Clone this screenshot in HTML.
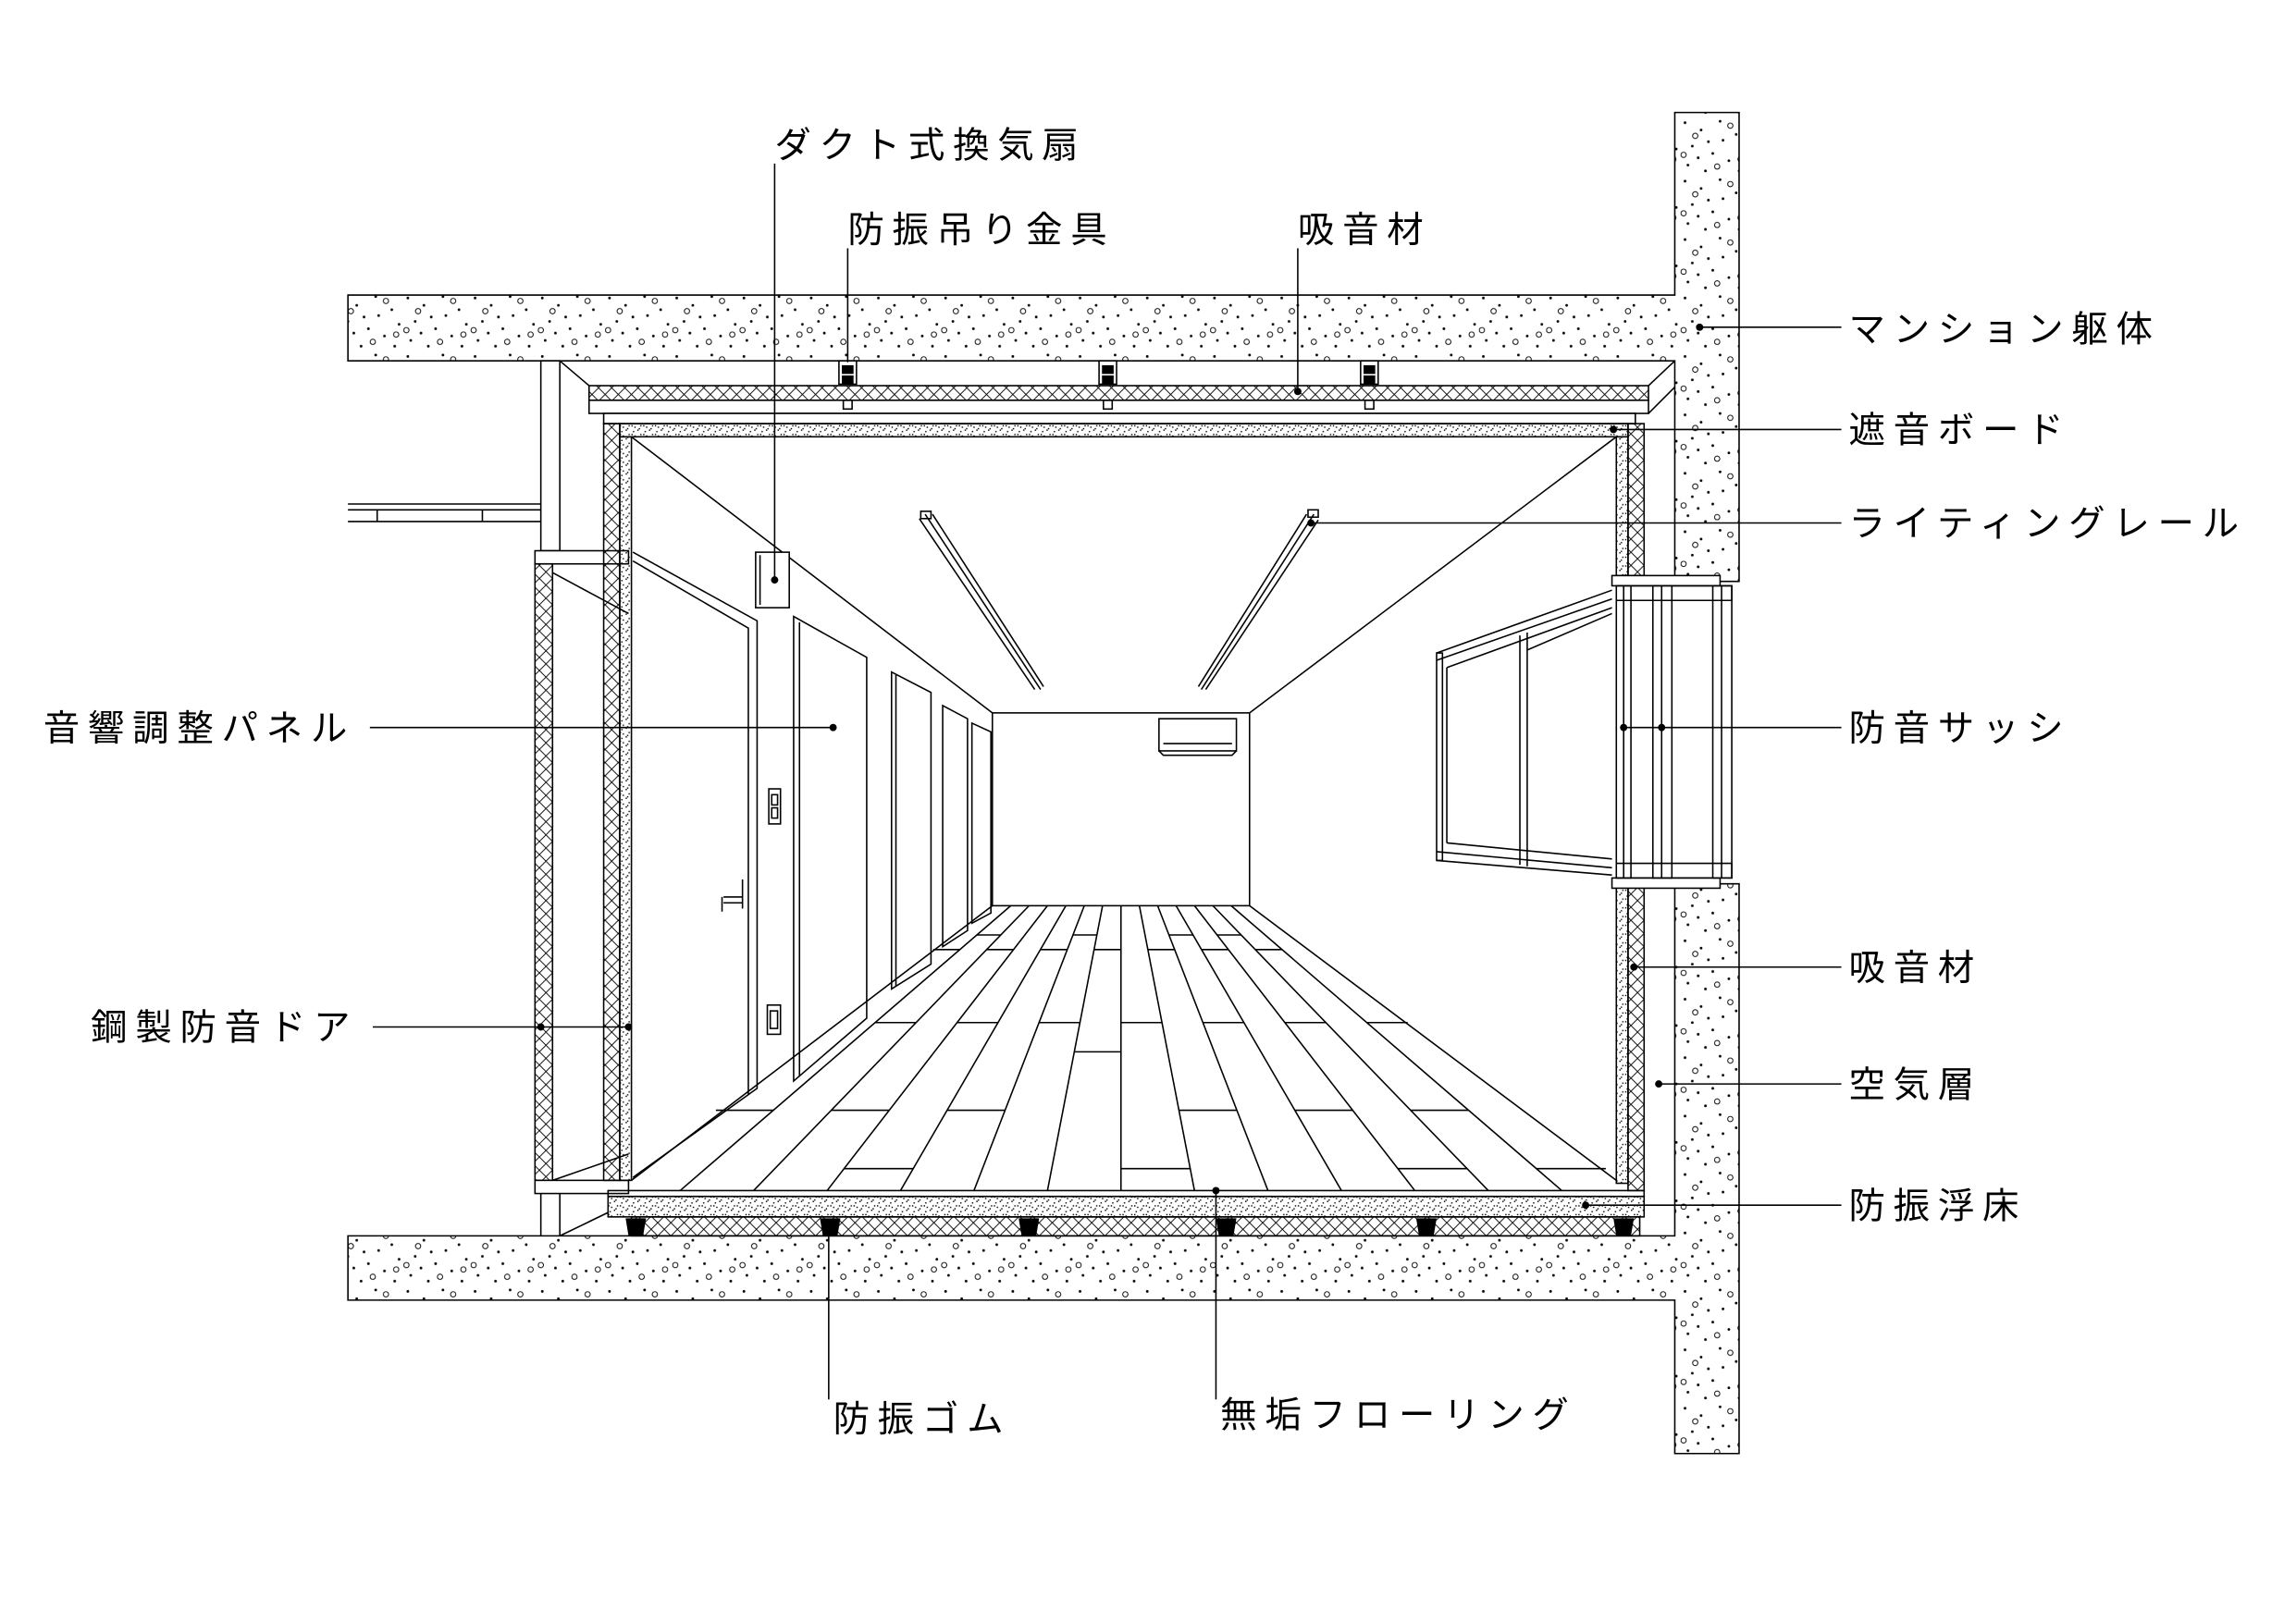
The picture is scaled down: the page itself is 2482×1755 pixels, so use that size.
<!DOCTYPE html>
<html><head><meta charset="utf-8"><style>
html,body{margin:0;padding:0;background:#fff;}
svg{display:block}
text{font-family:"Liberation Sans","Noto Sans CJK JP",sans-serif;font-size:25px;letter-spacing:5.5px;fill:#000}
</style></head><body>
<svg width="2482" height="1755" viewBox="0 0 1571 1111" xmlns="http://www.w3.org/2000/svg">
<defs>
<pattern id="conc" width="46" height="40" patternUnits="userSpaceOnUse">
<g fill="#000"><circle cx="3" cy="4" r="0.9"/><circle cx="14" cy="9" r="0.9"/><circle cx="27" cy="3" r="0.9"/><circle cx="38" cy="12" r="0.9"/><circle cx="8" cy="20" r="0.9"/><circle cx="22" cy="25" r="0.9"/><circle cx="33" cy="30" r="0.9"/><circle cx="43" cy="22" r="0.9"/><circle cx="5" cy="33" r="0.9"/><circle cx="17" cy="37" r="0.9"/><circle cx="40" cy="37" r="0.9"/><circle cx="29" cy="16" r="0.9"/><circle cx="19" cy="17" r="0.9"/><circle cx="12" cy="28" r="0.9"/></g>
<g fill="none" stroke="#000" stroke-width="0.6"><circle cx="10" cy="13" r="1.8"/><circle cx="34" cy="6" r="1.8"/><circle cx="25" cy="34" r="1.8"/><circle cx="2" cy="26" r="1.8"/><circle cx="41" cy="29" r="1.8"/></g>
</pattern>
<pattern id="hatch" width="9" height="9" patternUnits="userSpaceOnUse">
<path d="M0,0L9,9M9,0L0,9" stroke="#000" stroke-width="0.6"/>
</pattern>
<pattern id="speck" width="8" height="6" patternUnits="userSpaceOnUse">
<g fill="#000"><rect x="1" y="1" width="0.9" height="0.9"/><rect x="4" y="0" width="0.9" height="0.9"/><rect x="6" y="3" width="0.9" height="0.9"/><rect x="2" y="4" width="0.9" height="0.9"/><rect x="5" y="5" width="0.9" height="0.9"/><rect x="0" y="3" width="0.9" height="0.9"/></g>
</pattern>
</defs>
<g stroke="#000" stroke-width="1" fill="none">
<path d="M238,202H1146V77H1190V398H1146V247H238Z" fill="url(#conc)"/>
<path d="M238,846H1146V605H1190V995H1146V890H238Z" fill="url(#conc)"/>
<rect x="370" y="247" width="13" height="130" fill="#fff"/>
<path d="M383,247L403,264"/>
<path d="M238,345H370M238,357H370M238,349H370M258,349V357M330,349V357"/>
<rect x="366" y="377" width="64" height="9" fill="#fff"/>
<rect x="366" y="386" width="12" height="422" fill="url(#hatch)"/>
<rect x="366" y="808" width="64" height="9" fill="#fff"/>
<path d="M370,817V846M383,817V846M383,846L416,830M378,808L430,790M378,392L430,420"/>
<rect x="403" y="264" width="725" height="10" fill="url(#hatch)"/>
<rect x="403" y="274" width="725" height="9" fill="#fff"/>
<path d="M1128,264L1146,247M1128,283L1146,265"/>
<g fill="#fff"><rect x="574" y="247" width="12" height="16"/><rect x="752" y="247" width="12" height="16"/><rect x="931" y="247" width="12" height="16"/></g>
<g fill="#000" stroke="none"><rect x="576" y="250" width="8" height="6"/><rect x="576" y="257" width="8" height="6"/><rect x="754" y="250" width="8" height="6"/><rect x="754" y="257" width="8" height="6"/><rect x="933" y="250" width="8" height="6"/><rect x="933" y="257" width="8" height="6"/></g>
<rect x="577" y="274" width="6" height="6"/><rect x="755" y="274" width="6" height="6"/><rect x="934" y="274" width="6" height="6"/>
<rect x="413" y="283" width="706" height="7" fill="#fff"/>
<rect x="424" y="290" width="690" height="9" fill="url(#speck)"/>
<rect x="413" y="290" width="11" height="518" fill="url(#hatch)"/>
<rect x="424" y="299" width="8" height="509" fill="url(#speck)"/>
<rect x="1106" y="299" width="8" height="95" fill="url(#speck)"/>
<rect x="1114" y="290" width="11" height="104" fill="url(#hatch)"/>
<rect x="1106" y="606" width="8" height="204" fill="url(#speck)"/>
<rect x="1114" y="606" width="11" height="209" fill="url(#hatch)"/>
<rect x="1103" y="394" width="74" height="7" fill="#fff"/>
<rect x="1103" y="601" width="74" height="7" fill="#fff"/>
<g fill="#fff"><rect x="1106" y="401" width="10" height="200"/><rect x="1131" y="401" width="13" height="200"/><rect x="1172" y="401" width="13" height="200"/></g>
<path d="M1111,401V601M1137,401V601M1178,401V601"/>
<path d="M1106,401H1185V411H1106M1106,591H1185V601H1106"/>
<path d="M1103,404L983,447M1103,410L983,452M1103,416L990,457M1103,594L983,583M1103,599L983,589M1103,588L990,577"/>
<rect x="983" y="447" width="4" height="142"/>
<path d="M990,457V577M1040,435V592M1045,433V593M1045,445L1103,420"/>
<rect x="416" y="815" width="709" height="4"/>
<rect x="416" y="819" width="709" height="14" fill="url(#speck)"/>
<rect x="432" y="833" width="690" height="13" fill="url(#hatch)"/>
<g fill="#000" stroke="none"><path d="M428,834H442L440,846H430Z"/><path d="M561,834H575L573,846H563Z"/><path d="M697,834H711L709,846H699Z"/><path d="M832,834H846L844,846H834Z"/><path d="M969,834H983L981,846H971Z"/><path d="M1104,834H1118L1116,846H1106Z"/></g>
<rect x="679" y="488" width="176" height="132"/>
<path d="M432,299L679,488M1106,299L855,488M432,808L679,620M1106,808L855,620"/>
<path d="M691.6,620L465.3,815M704.1,620L515.6,815M716.7,620L565.9,815M729.3,620L616.1,815M741.9,620L666.4,815M754.4,620L716.7,815M767,620L767,815M779.6,620L817.3,815M792.1,620L867.6,815M804.7,620L917.9,815M817.3,620L968.1,815M829.9,620L1018.4,815M842.4,620L1068.7,815"/>
<path d="M638.5,650H656.9M489.8,760H529.5M598.9,700H626.7M668.2,640H684.6M675.2,650H693.6M568.9,760H608.6M654.8,700H682.9M577.4,800H624.9M712,650H730.4M648.2,760H687.9M711,700H738.9M734.1,640H750.5M748.6,650H767M735,720H767M767,700H795.1M767,800H814.5M785.4,650H803.6M806.7,760H846.1M823,700H851M799.9,640H816.4M822,650H840.4M885.8,760H925.4M879.2,700H907.3M832.9,640H849.4M956.6,800H1004.1M858.8,650H877.1M965.1,760H1004.5M935.1,700H963.2M1051.3,800H1098.8"/>
<path d="M433,378L518,425V745L433,806"/>
<path d="M433,384L512,430V749"/>
<rect x="526" y="540" width="8" height="24"/><rect x="528" y="544" width="4" height="7"/><rect x="528" y="553" width="4" height="7"/>
<rect x="525" y="688" width="9" height="20"/><rect x="527" y="692" width="5" height="12"/>
<path d="M508,602V622M495,614H508M495,618H508M494,614V624"/>
<rect x="517" y="378" width="23" height="38" fill="#fff"/><path d="M520,380V414"/>
<path d="M543,422L593,450V697L543,740Z"/><path d="M547,426V737"/>
<path d="M610,460L637,474V660L610,677Z"/><path d="M613,462V675"/>
<path d="M645,483L662,492V637L645,648Z"/>
<path d="M665,495L678,501V625L665,632Z"/>
<path d="M633,352L712,472M638,352L714,470M629,355L708,472"/>
<rect x="630" y="350" width="7" height="5"/>
<path d="M899,352L822,472M894,352L820,470M902,356L825,472"/>
<rect x="895" y="349" width="7" height="5"/>
<rect x="793" y="492" width="53" height="22"/><path d="M796,509H843M793,514L796,517H843L846,514"/>
<path d="M530,112V397M580,170V248M888,170V268M1163,224H1260M1104,294H1260M897,358H1260M1109,498H1260M1118,662H1260M1135,742H1260M1085,825H1260M253,498H570M255,703H430M567,840V958M832,815V958"/>
</g>
<g fill="#000">
<circle cx="530" cy="397" r="2.5"/><circle cx="888" cy="268" r="2.5"/><circle cx="1163" cy="224" r="2.5"/><circle cx="1104" cy="294" r="2.5"/><circle cx="897" cy="358" r="2.5"/><circle cx="1111" cy="498" r="2.5"/><circle cx="1137" cy="498" r="2.5"/><circle cx="1118" cy="662" r="2.5"/><circle cx="1135" cy="742" r="2.5"/><circle cx="1085" cy="825" r="2.5"/><circle cx="570" cy="498" r="2.5"/><circle cx="370" cy="703" r="2.5"/><circle cx="430" cy="703" r="2.5"/><circle cx="832" cy="815" r="2.5"/>
</g>
<text x="530" y="108">ダクト式換気扇</text>
<text x="580" y="166">防振吊り金具</text>
<text x="888" y="166">吸音材</text>
<text x="1265" y="234">マンション躯体</text>
<text x="1265" y="303">遮音ボード</text>
<text x="1265" y="367">ライティングレール</text>
<text x="1265" y="507">防音サッシ</text>
<text x="1265" y="671">吸音材</text>
<text x="1265" y="751">空気層</text>
<text x="1265" y="834">防振浮床</text>
<text x="243" y="507" text-anchor="end">音響調整パネル</text>
<text x="245" y="712" text-anchor="end">鋼製防音ドア</text>
<text x="570" y="980">防振ゴム</text>
<text x="835" y="977">無垢フローリング</text>
</svg>
</body></html>
